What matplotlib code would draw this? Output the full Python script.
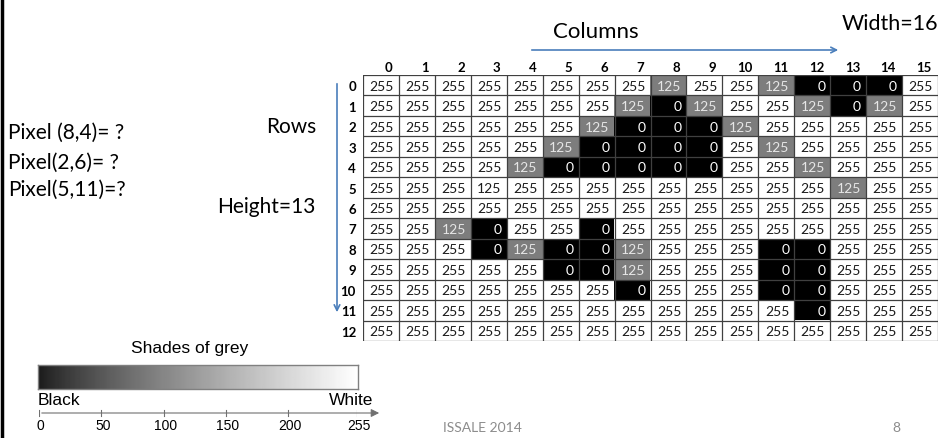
"""
Slide: image = grid of pixel values (13 rows x 16 columns)
"""
import numpy as np
import matplotlib
matplotlib.use("Agg")
import matplotlib.pyplot as plt
from matplotlib.colors import ListedColormap

W, H = 941, 439

# pixel values, one list per row
pixels = [
    [255, 255, 255, 255, 255, 255, 255, 255, 125, 255, 255, 125, 0, 0, 0, 255],
    [255, 255, 255, 255, 255, 255, 255, 125, 0, 125, 255, 255, 125, 0, 125, 255],
    [255, 255, 255, 255, 255, 255, 125, 0, 0, 0, 125, 255, 255, 255, 255, 255],
    [255, 255, 255, 255, 255, 125, 0, 0, 0, 0, 255, 125, 255, 255, 255, 255],
    [255, 255, 255, 255, 125, 0, 0, 0, 0, 0, 255, 255, 125, 255, 255, 255],
    [255, 255, 255, 125, 255, 255, 255, 255, 255, 255, 255, 255, 255, 125, 255, 255],
    [255, 255, 255, 255, 255, 255, 255, 255, 255, 255, 255, 255, 255, 255, 255, 255],
    [255, 255, 125, 0, 255, 255, 0, 255, 255, 255, 255, 255, 255, 255, 255, 255],
    [255, 255, 255, 0, 125, 0, 0, 125, 255, 255, 255, 0, 0, 255, 255, 255],
    [255, 255, 255, 255, 255, 0, 0, 125, 255, 255, 255, 0, 0, 255, 255, 255],
    [255, 255, 255, 255, 255, 255, 255, 0, 255, 255, 255, 0, 0, 255, 255, 255],
    [255, 255, 255, 255, 255, 255, 255, 255, 255, 255, 255, 255, 0, 255, 255, 255],
    [255, 255, 255, 255, 255, 255, 255, 255, 255, 255, 255, 255, 255, 255, 255, 255],
]
# cells where the slide left the fill white although the value is not 255
unfilled_cells = [(5, 3)]

col_labels = [str(i) for i in range(16)]
row_labels = [str(i) for i in range(13)]
questions = ["Pixel (8,4)= ?", "Pixel(2,6)= ?", "Pixel(5,11)=?"]
scale_ticks = [0, 50, 100, 150, 200, 255]

FONT = ["Lato", "DejaVu Sans"]
ARIAL = ["Liberation Sans", "DejaVu Sans"]


def px_axes(fig, x, y, w, h):
    # axes placed with pixel coordinates from the top-left corner
    return fig.add_axes([x / W, 1 - (y + h) / H, w / W, h / H])


fig = plt.figure(figsize=(W / 100, H / 100), dpi=100)
fig.patch.set_facecolor("white")

# background axes in pixel units for the free texts and arrows
bg = fig.add_axes([0, 0, 1, 1])
bg.set_xlim(0, W)
bg.set_ylim(H, 0)
bg.axis("off")

bg.plot([2.5, 2.5], [0, H], color="black", lw=2.5)

for y, q in zip([133, 163, 190], questions):
    bg.text(8, y, q, fontsize=15, family=FONT, va="center", ha="left")
bg.text(291, 127, "Rows", fontsize=15, family=FONT, va="center", ha="center")
bg.text(266, 207, "Height=13", fontsize=15, family=FONT, va="center", ha="center")
bg.text(596, 32, "Columns", fontsize=16, family=FONT, va="center", ha="center")
bg.text(890, 24, "Width=16", fontsize=15.5, family=FONT, va="center", ha="center")

bg.annotate("", xy=(841, 51), xytext=(529, 51),
            arrowprops=dict(arrowstyle="->", color="#4a7ebb", lw=1.2))
bg.annotate("", xy=(337, 316), xytext=(337, 82),
            arrowprops=dict(arrowstyle="->", color="#4a7ebb", lw=1.2))

bg.text(443, 428, "ISSALE 2014", fontsize=10, family=FONT, color="#8c8c8c",
        va="center", ha="left")
bg.text(896, 428, "8", fontsize=10, family=FONT, color="#8c8c8c",
        va="center", ha="center")

# pixel table
vals = np.array(pixels)
fill = vals.copy()
for r, c in unfilled_cells:
    fill[r, c] = 255

ax = px_axes(fig, 363, 76, 575, 266)
ax.imshow(fill, cmap="gray", vmin=0, vmax=255, aspect="auto",
          interpolation="nearest")
ax.set_xlim(-0.5, 15.5)
ax.set_ylim(12.5, -0.5)
for k in range(17):
    ax.axvline(k - 0.5, color="#404040", lw=0.9)
for k in range(14):
    ax.axhline(k - 0.5, color="#404040", lw=0.9)
for r in range(vals.shape[0]):
    for c in range(vals.shape[1]):
        v = vals[r, c]
        if fill[r, c] == 0:
            tc = "white"
        elif fill[r, c] == 125:
            tc = "#e6e6e6"
        else:
            tc = "#1a1a1a"
        ax.text(c + 0.36, r + 0.02, str(v), fontsize=10, family=FONT, color=tc,
                ha="right", va="center")
for c, lab in enumerate(col_labels):
    ax.text(c + 0.33, -0.62, lab, fontsize=9.5, fontweight="bold", family=FONT,
            ha="right", va="bottom")
ax.set_xticks([])
ax.set_yticks(range(13))
ax.set_yticklabels(row_labels, fontsize=9.5, fontweight="bold", family=FONT)
ax.tick_params(length=0, pad=5)
for s in ax.spines.values():
    s.set_visible(False)

# shades of grey bar
gbar = px_axes(fig, 38, 366, 320, 24)
grad = np.linspace(0, 1, 256) ** 0.8
gbar.imshow(grad[np.newaxis, :], cmap=ListedColormap(
    plt.cm.gray(np.linspace(0.1, 1, 256))), aspect="auto", extent=(0, 255, 0, 1))
gbar.set_xticks([])
gbar.set_yticks([])
for s in gbar.spines.values():
    s.set_color("#808080")
    s.set_linewidth(1)

bg.text(190, 349, "Shades of grey", fontsize=12.5, family=ARIAL, va="center", ha="center")
bg.text(38, 401, "Black", fontsize=12.5, family=ARIAL, va="center", ha="left")
bg.text(373, 401, "White", fontsize=12.5, family=ARIAL, va="center", ha="right")

# 0..255 scale
sc = px_axes(fig, 39, 408, 318, 12)
sc.set_xlim(0, 255)
sc.set_ylim(-1, 1)
sc.axis("off")
sc.annotate("", xy=(275, 0), xytext=(0, 0),
            arrowprops=dict(arrowstyle="-|>", color="#707070", lw=0.8,
                            mutation_scale=12), annotation_clip=False)
for t in scale_ticks:
    sc.plot([t, t], [-0.55, 0.55], color="#707070", lw=0.8)
    sc.text(t + 1.5, -2.0, str(t), fontsize=10, family=ARIAL,
            ha="center", va="center", clip_on=False)

fig.savefig("out.png", dpi=100)
